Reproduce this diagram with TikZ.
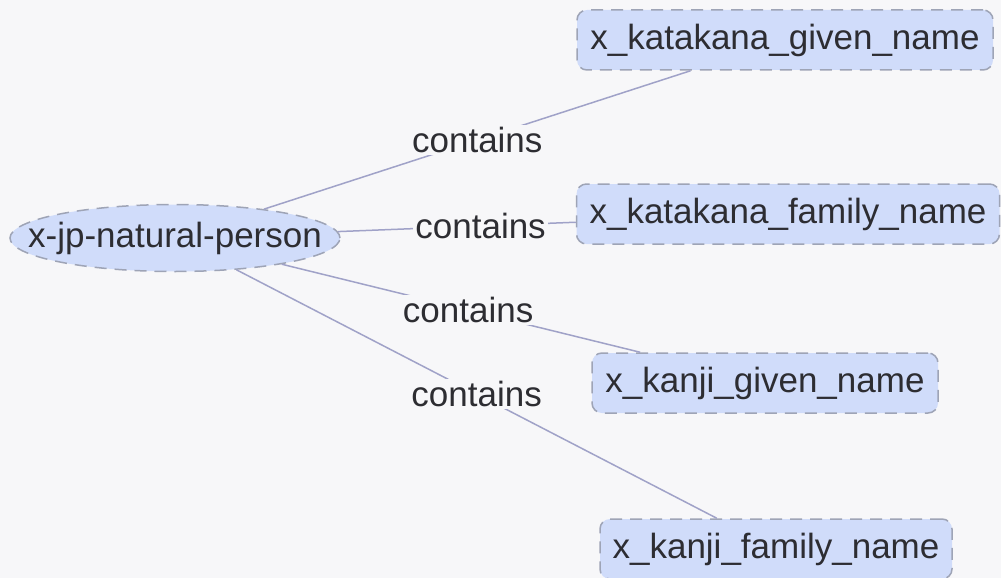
\documentclass[tikz,border=0pt]{standalone}
\usepackage{fontspec}
\setmainfont{Liberation Sans}
\usetikzlibrary{shapes.geometric}
\definecolor{pagebg}{RGB}{247,247,249}
\definecolor{nodefill}{RGB}{208,220,250}
\definecolor{nodeline}{RGB}{158,164,182}
\definecolor{edgeline}{RGB}{160,162,200}
\definecolor{txt}{RGB}{45,45,50}
\tikzset{
  bigtext/.style={text=txt, font=\fontsize{35}{40}\selectfont},
  base/.style={bigtext, fill=nodefill, draw=nodeline, line width=1.5pt,
    dash pattern=on 12pt off 8pt, inner sep=0pt},
  rootnode/.style={base, ellipse},
  attrbox/.style={base, rectangle, rounded corners=10pt, minimum height=60pt},
  link/.style={draw=edgeline, line width=1.5pt},
  linklabel/.style={bigtext, fill=pagebg, inner sep=2pt}
}
\begin{document}
\begin{tikzpicture}[x=1pt, y=-1pt]
  \fill[pagebg] (0,0) rectangle (1001,578);
  \useasboundingbox (0,0) rectangle (1001,578);

  % the ellipse keeps a fixed size; its text sits on it as a centred label
  \node[rootnode, minimum width=330pt, minimum height=67pt,
        label={[bigtext, inner sep=0pt]center:x-jp-natural-person}] (root) at (175,238) {};
  \node[attrbox, minimum width=416pt] (kgn) at (785,40) {x\_katakana\_given\_name};
  \node[attrbox, minimum width=423pt] (kfn) at (788,214) {x\_katakana\_family\_name};
  \node[attrbox, minimum width=346pt] (jgn) at (765,383) {x\_kanji\_given\_name};
  \node[attrbox, minimum width=352pt] (jfn) at (776,549) {x\_kanji\_family\_name};

  \draw[link] (root) -- node[linklabel, pos=0.5] {contains} (kgn);
  \draw[link] (root) -- node[linklabel, pos=0.6] {contains} (kfn);
  \draw[link] (root) -- node[linklabel, pos=0.52] {contains} (jgn);
  \draw[link] (root) -- node[linklabel, pos=0.5] {contains} (jfn);
\end{tikzpicture}
\end{document}
